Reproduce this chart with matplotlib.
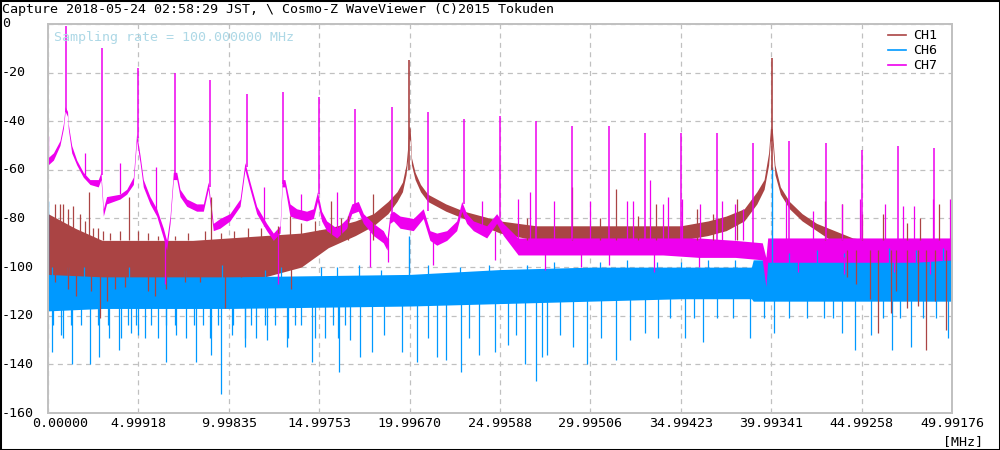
import matplotlib
matplotlib.use("Agg")
import matplotlib.pyplot as plt
from matplotlib.lines import Line2D
from matplotlib.patches import Rectangle
from matplotlib.transforms import blended_transform_factory, offset_copy

C1, C6, C7 = "#aa4444", "#0099ff", "#ee00ee"
GRID = "#c0c0c0"
NOTE_COLOR = "#add8e6"
MONO = "DejaVu Sans Mono"

TITLE = "Capture 2018-05-24 02:58:29 JST, \\ Cosmo-Z WaveViewer (C)2015 Tokuden"
NOTE = "Sampling rate = 100.000000 MHz"
x_ticks = [0.00000, 4.99918, 9.99835, 14.99753, 19.99670, 24.99588,
           29.99506, 34.99423, 39.99341, 44.99258, 49.99176]
y_ticks = [0, -20, -40, -60, -80, -100, -120, -140, -160]

# ---------------------------------------------------------------------------
# CH1 (brown): dense noise floor band + spikes
# ---------------------------------------------------------------------------
ch1_f = [0.0, 0.5, 1.5, 3.0, 4.0, 6.0, 8.0, 10.0, 12.0, 14.0, 15.5, 17.0,
         18.0, 18.8, 19.3, 19.6, 19.8, 19.9, 19.96, 20.03, 20.1, 20.3, 20.6,
         21.0, 22.0, 23.0, 24.0, 25.0, 27.0, 30.0, 33.0, 35.0, 36.5, 37.5,
         38.5, 39.2, 39.6, 39.85, 39.95, 40.05, 40.2, 40.5, 41.0, 41.7, 42.5,
         43.5, 44.5, 45.5, 47.0, 48.5, 49.99]
ch1_lo = [-105, -105, -105, -105, -105, -105, -105, -105, -104, -100, -92, -87,
          -83, -78, -73, -69, -62, -55, -47, -48, -58, -64, -69,
          -73, -77, -80, -83, -86, -89, -89, -89, -89, -87, -85,
          -81, -74, -68, -58, -48, -48, -62, -70, -76, -81, -85,
          -90, -95, -100, -106, -110, -108]
ch1_hi = [-78, -80, -84, -89, -89, -89, -89, -88, -87, -86, -84, -81,
          -78, -73, -69, -65, -58, -50, -42, -43, -55, -61, -66,
          -70, -74, -77, -79, -81, -83, -83, -83, -83, -81, -79,
          -76, -69, -64, -53, -43, -43, -58, -67, -73, -78, -82,
          -85, -88, -89, -90, -93, -95]
ch1_peak_f = [0.0, 19.98, 40.01]
ch1_peak_db = [-14, -15, -14]
ch1_up_f = [0.37, 0.65, 0.83, 1.1, 1.38, 1.75, 2.03, 2.25, 2.49, 2.76, 3.04,
            3.41, 3.96, 4.48, 4.98, 5.53, 6.08, 7.0, 7.74, 8.66, 9.03, 9.58,
            10.3, 11.06, 11.8, 12.7, 13.4, 14.0, 14.74, 15.66, 16.2, 16.6,
            17.95, 26.5, 28.96, 30.5, 31.4, 32.6, 33.6, 35.9, 36.8, 38.08,
            42.97, 43.9, 45.0, 46.2, 47.5, 48.2, 49.3]
ch1_up_db = [-74, -74, -74, -76, -75, -78, -81, -69, -84, -84, -85,
             -86, -85, -71, -85, -86, -87, -87, -86, -85, -71, -86,
             -85, -84, -84, -83, -79, -82, -81, -73, -80, -79,
             -70, -80, -67, -80, -68, -79, -74, -76, -78, -72,
             -73, -74, -78, -78, -82, -80, -74]
ch1_dn_f = [0.37, 1.1, 1.57, 2.4, 2.86, 3.28, 3.69, 4.24, 5.53, 5.9, 6.54,
            7.56, 8.39, 9.77, 10.7, 12.7, 13.45, 44.2, 44.7, 45.45, 45.9, 46.6,
            46.9, 47.5, 48.1, 48.55, 49.05, 49.65]
ch1_dn_db = [-106, -109, -112, -110, -121, -114, -109, -108, -110, -112, -109,
             -106, -106, -117, -104, -104, -109, -104, -107, -113, -127, -119,
             -110, -117, -116, -134, -114, -126]

# ---------------------------------------------------------------------------
# CH6 (blue)
# ---------------------------------------------------------------------------
ch6_f = [0.0, 3.0, 10.0, 20.0, 25.0, 30.0, 35.0, 38.9, 39.0, 42.0, 46.0, 49.99]
ch6_lo = [-118, -117, -117, -116, -115, -114, -113, -113, -114, -114, -114,
          -114]
ch6_hi = [-103, -104, -104, -103, -101, -100, -100, -100, -97, -97, -97, -97]
ch6_peak_f = [0.0, 19.98, 40.01]
ch6_peak_db = [-73, -87, -59]
ch6_up_f = [0.2, 1.1, 2.0, 4.5, 7.6, 9.6, 12.0, 12.9, 15.1, 16.0, 17.2, 18.4,
            21.0, 22.8, 24.4, 26.5, 28.0, 30.5, 32.0, 33.7, 35.0, 36.5, 38.0,
            41.0, 42.5, 44.0, 46.5, 48.0, 49.5]
ch6_up_db = [-100, -100, -100, -100, -101, -99, -101, -100, -100, -100, -99,
             -101, -99, -100, -99, -99, -98, -98, -97, -98, -98, -97, -97,
             -94, -93, -94, -92, -93, -92]
ch6_dn_f = [0.2, 0.28, 0.7, 0.83, 1.29, 1.35, 1.84, 2.3, 2.76, 2.8, 3.32, 3.4,
            3.95, 4.05, 4.42, 4.6, 4.88, 5.0, 5.34, 5.71, 6.08, 6.5, 6.54, 7.0,
            7.1, 7.65, 8.1, 8.2, 8.57, 8.94, 9.0, 9.4, 9.58, 10.2, 10.23,
            10.87, 10.9, 11.24, 11.52, 11.98, 12.1, 12.53, 13.2, 13.27, 13.64,
            14.0, 14.6, 14.74, 15.3, 15.76, 16.03, 16.1, 16.4, 16.7, 17.25,
            17.9, 18.6, 19.56, 20.4, 21.0, 21.5, 22.0, 22.86, 23.3, 23.85,
            24.7, 25.45, 25.9, 26.4, 27.0, 27.3, 27.6, 28.3, 29.05, 29.8, 30.6,
            31.4, 32.2, 33.0, 33.75, 34.4, 35.2, 35.7, 36.2, 37.0, 37.9, 38.8,
            39.6, 40.15, 41.0, 41.95, 42.9, 43.4, 43.9, 44.6, 45.5, 46.2,
            46.65, 47.1, 47.7, 48.4, 49.1, 49.75]
ch6_dn_db = [-135, -124, -128, -129, -124, -140, -124, -140, -124, -137, -124,
             -129, -134, -129, -124, -127, -124, -128, -129, -124, -129, -139,
             -124, -124, -128, -129, -124, -139, -124, -129, -136, -124, -152,
             -128, -124, -129, -133, -124, -129, -124, -130, -124, -133, -129,
             -124, -124, -139, -129, -129, -124, -129, -143, -124, -130, -137,
             -135, -128, -135, -139, -129, -137, -138, -143, -129, -136, -135,
             -132, -128, -140, -147, -137, -136, -128, -133, -140, -129, -138,
             -130, -127, -129, -121, -129, -121, -131, -121, -121, -129, -121,
             -127, -121, -121, -121, -121, -127, -134, -128, -121, -134, -121,
             -133, -121, -121, -129]

# ---------------------------------------------------------------------------
# CH7 (magenta): resonance floor + harmonic peaks
# ---------------------------------------------------------------------------
ch7_f = [0.0, 0.3, 0.66, 0.85, 0.95, 1.08, 1.12, 1.31, 1.59, 1.95, 2.32, 2.78,
         2.93, 3.06, 3.24, 3.98, 4.35, 4.72, 4.9, 5.09, 5.27, 5.64, 6.01, 6.38,
         6.56, 6.75, 6.93, 7.12, 7.3, 7.67, 8.22, 8.59, 8.86, 9.14, 9.51, 10.06,
         10.62, 10.89, 11.17, 11.54, 12.09, 12.46, 12.83, 12.95, 13.1, 13.38,
         13.75, 14.3, 14.67, 14.9, 15.13, 15.41, 15.97, 16.52, 16.8, 17.16,
         17.44, 17.99, 18.54, 18.75, 18.91, 19.1, 19.47, 20.2, 20.75, 21.12,
         21.5, 22.05, 22.6, 22.88, 23.15, 23.52, 24.26, 24.81, 25.18, 26.0,
         28.0, 30.0, 32.0, 34.0, 36.0, 38.0, 39.5, 39.7, 39.8, 40.0, 42.0,
         44.0, 46.0, 48.0, 49.99]
ch7_lo = [-58, -56, -50, -43, -36, -38, -43, -53, -58, -63, -66, -67,
          -64, -79, -74, -72, -70, -66, -48, -57, -67, -74, -79, -88,
          -93, -82, -64, -64, -71, -75, -77, -77, -68, -85, -84, -81,
          -75, -60, -68, -78, -85, -89, -86, -67, -67, -79,
          -80, -81, -80, -73, -81, -85, -88, -84, -78, -77,
          -82, -87, -90, -93, -82, -81, -84, -85, -80, -89,
          -91, -89, -85, -77, -82, -85, -88, -82, -87, -95,
          -95, -95, -95, -95, -96, -96, -97, -108, -98, -98, -98,
          -98, -98, -98, -97]
ch7_hi = [-55, -53, -48, -41, -34, -36, -41, -50, -56, -61, -64, -64,
          -61, -76, -71, -70, -68, -63, -45, -54, -64, -71, -76, -84,
          -89, -79, -61, -61, -68, -72, -74, -74, -65, -82, -80, -78,
          -72, -57, -65, -75, -82, -86, -83, -64, -64, -74,
          -76, -77, -76, -69, -77, -81, -84, -80, -74, -73,
          -78, -82, -85, -88, -78, -77, -79, -80, -76, -85,
          -86, -85, -81, -73, -78, -81, -83, -78, -82, -88,
          -88, -88, -88, -88, -88, -89, -90, -96, -88, -88, -88,
          -88, -88, -88, -88]
ch7_peak_f = [1.01, 3.0, 5.0, 7.0, 8.97, 10.98, 13.0, 15.0, 17.0, 19.0, 21.0,
              23.0, 25.0, 27.0, 29.0, 31.0, 33.0, 35.0, 37.0, 39.0, 41.0,
              43.0, 45.0, 47.0, 49.0]
ch7_peak_db = [-1, -10, -18, -20, -23, -29, -28, -30, -35, -34, -36, -39, -38,
               -40, -42, -42, -45, -45, -45, -49, -48, -49, -52, -50, -51]
ch7_peak_base = [-36, -62, -47, -62, -67, -59, -66, -70, -75, -79, -77, -74,
                 -80, -89, -89, -89, -89, -89, -89, -90, -89, -89, -89, -89,
                 -89]
ch7_spur_f = [0.0, 2.03, 4.0, 6.0, 11.95, 14.0, 16.0, 24.0, 26.0, 26.66, 28.0,
              30.0, 32.0, 32.33, 33.3, 34.0, 34.3, 35.04, 36.05, 37.25, 38.0,
              38.45, 40.79, 42.3, 43.9, 44.9, 46.3, 47.3, 47.9, 48.95, 49.9]
ch7_spur_db = [-46, -53, -57, -59, -67, -70, -69, -73, -72, -69, -73,
               -73, -73, -73, -64, -74, -71, -72, -74, -73, -74,
               -76, -72, -77, -74, -72, -74, -75, -75, -72, -72]
ch7_spur_base = [-55, -62, -70, -77, -83, -79, -85, -85, -89, -89, -89,
                 -89, -89, -89, -89, -89, -89, -89, -89, -89, -89,
                 -89, -89, -89, -89, -89, -89, -89, -89, -89, -89]
ch7_dip_f = [6.47, 12.7, 17.8, 18.8, 21.3, 24.7, 27.5, 29.5, 31.0, 33.5, 36.0,
             41.5, 44.0, 46.8, 48.8]
ch7_dip_db = [-107, -107, -100, -98, -99, -97, -101, -100, -99, -102, -100,
              -102, -103, -102, -103]
ch7_dip_top = [-88, -86, -85, -88, -88, -85, -94, -94, -94, -94, -94,
               -96, -96, -96, -96]

# ---------------------------------------------------------------------------
fig = plt.figure(figsize=(10, 4.5), dpi=100)
fig.patch.set_facecolor("white")
ax = fig.add_axes([0.048, 0.0822, 0.904, 0.8645])

# CH1 floor, then CH6 (CH1 spikes end up over the blue noise as in the capture)
ax.fill_between(ch1_f, ch1_lo, ch1_hi, color=C1, lw=0)
ax.fill_between(ch6_f, ch6_lo, ch6_hi, color=C6, lw=0)
ax.vlines(ch6_up_f, -106, ch6_up_db, color=C6, lw=0.9)
ax.vlines(ch6_dn_f, ch6_dn_db, -112, color=C6, lw=0.9)
ax.vlines(ch6_peak_f, -105, ch6_peak_db, color=C6, lw=1.0)
ax.vlines(ch1_up_f, -89, ch1_up_db, color=C1, lw=0.9)
ax.vlines(ch1_dn_f, ch1_dn_db, -93, color=C1, lw=0.9)
ax.vlines(ch1_peak_f, -60, ch1_peak_db, color=C1, lw=1.2)

# CH7 floor sits under the CH1 band between 25 and 38 MHz
ax.fill_between(ch7_f, ch7_lo, ch7_hi, color=C7, lw=0, zorder=1.9)
ax.vlines(ch7_peak_f, ch7_peak_base, ch7_peak_db, color=C7, lw=1.1)
ax.vlines(ch7_spur_f, ch7_spur_base, ch7_spur_db, color=C7, lw=0.9)
ax.vlines(ch7_dip_f, ch7_dip_db, ch7_dip_top, color=C7, lw=0.9)

ax.set_xlim(0, 49.99176)
ax.set_ylim(-160, 0)
ax.set_xticks(x_ticks)
ax.set_yticks(y_ticks)
ax.tick_params(length=0, labelbottom=False, labelleft=False)
ax.grid(color=GRID, linestyle=(0, (4, 3.5)), lw=0.9)
ax.set_axisbelow(True)
for s in ax.spines.values():
    s.set_color(GRID)
    s.set_linewidth(1.4)

# tick labels (positioned like the viewer: flush left for y, under ticks for x)
ytrans = blended_transform_factory(fig.transFigure, ax.transData)
for v in y_ticks:
    ax.text(0.002, v, str(v), transform=ytrans, ha="left", va="center",
            fontsize=9.6, family=MONO, color="black", clip_on=False)
xtrans = blended_transform_factory(ax.transData, fig.transFigure)
for i, v in enumerate(x_ticks):
    tr = offset_copy(xtrans, fig=fig, x=12, y=0, units="dots") if i == 0 else xtrans
    ax.text(v, 0.058, f"{v:.5f}", transform=tr, ha="center", va="center",
            fontsize=9.6, family=MONO, color="black", clip_on=False)
fig.text(0.983, 0.019, "[MHz]", ha="right", va="center", fontsize=9.6,
         family=MONO, color="black")

fig.text(0.002, 0.980, TITLE, ha="left", va="center", fontsize=9.6,
         family=MONO, color="black")
ax.text(0.0066, 0.964, NOTE, transform=ax.transAxes, ha="left", va="center",
        fontsize=9.6, family=MONO, color=NOTE_COLOR)

handles = [Line2D([], [], color=c, lw=1.2) for c in (C1, C6, C7)]
ax.legend(handles, ["CH1", "CH6", "CH7"], loc="upper right",
          bbox_to_anchor=(0.937, 0.935), bbox_transform=fig.transFigure,
          frameon=False, borderpad=0, borderaxespad=0, handlelength=1.3,
          handletextpad=0.55, labelspacing=0.15,
          prop={"family": MONO, "size": 9.6})

fig.add_artist(Rectangle((0, 0), 1, 1, transform=fig.transFigure, fill=False,
                         ec="black", lw=2.2))

fig.savefig("out.png", dpi=100)
